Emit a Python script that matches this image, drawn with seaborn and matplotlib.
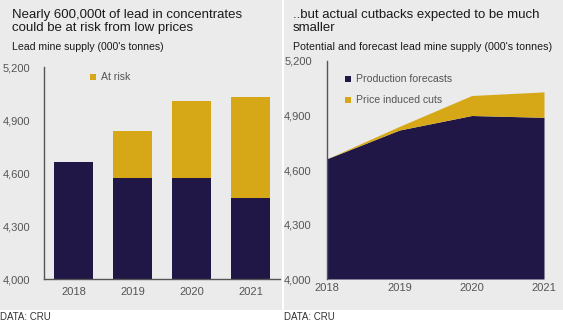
import matplotlib
matplotlib.use("Agg")
import matplotlib.pyplot as plt
from matplotlib.patches import Rectangle
from matplotlib.ticker import FuncFormatter
import seaborn as sns
import pandas as pd

# Data (000's tonnes)
years = ["2018", "2019", "2020", "2021"]
secure_supply = [4662, 4572, 4572, 4458]
at_risk = [0, 268, 438, 572]
production_forecasts = [4662, 4820, 4900, 4890]
price_induced_cuts = [0, 20, 110, 140]
y_ticks = [4000, 4300, 4600, 4900, 5200]

NAVY = "#201747"
GOLD = "#d6a817"
PANEL = "#ebebeb"
TEXT = "#1a1a1a"
TICK = "#555555"

sns.set_theme(style="white")
plt.rcParams["font.family"] = ["Liberation Sans", "DejaVu Sans"]

W, H = 563, 324
fig = plt.figure(figsize=(W / 100, H / 100), dpi=100, facecolor="white")


def fx(px):
    return px / W


def fy(py):
    return 1 - py / H


# Panel backgrounds
fig.patches.append(Rectangle((0, fy(310)), fx(282), 310 / H, transform=fig.transFigure,
                             facecolor=PANEL, edgecolor="none", zorder=-5))
fig.patches.append(Rectangle((fx(284), fy(310)), fx(W - 284), 310 / H, transform=fig.transFigure,
                             facecolor=PANEL, edgecolor="none", zorder=-5))

df = pd.DataFrame({
    "year": years,
    "secure": secure_supply,
    "total": [s + r for s, r in zip(secure_supply, at_risk)],
})

thousands = FuncFormatter(lambda v, p: f"{int(v):,}")


def style_axis(ax):
    ax.set_facecolor("none")
    ax.set_ylim(4000, 5200)
    ax.set_yticks(y_ticks)
    ax.yaxis.set_major_formatter(thousands)
    for side in ("top", "right"):
        ax.spines[side].set_visible(False)
    ax.spines["left"].set_color(TICK)
    ax.spines["bottom"].set_color(TICK)
    ax.spines["left"].set_linewidth(1)
    ax.spines["bottom"].set_linewidth(1)
    ax.tick_params(axis="both", length=0, labelsize=8, colors=TICK, labelcolor=TICK)
    ax.tick_params(axis="y", pad=10)
    ax.tick_params(axis="x", pad=6)
    ax.set_xlabel("")
    ax.set_ylabel("")


# Left: stacked bars
ax1 = fig.add_axes([fx(44), fy(279), fx(236), 212 / H])
ax1.set_zorder(2)
sns.barplot(data=df, x="year", y="total", color=GOLD, width=0.66, saturation=1,
            linewidth=0, edgecolor="none", ax=ax1)
sns.barplot(data=df, x="year", y="secure", color=NAVY, width=0.66, saturation=1,
            linewidth=0, edgecolor="none", ax=ax1)
ax1.set_xlim(-0.5, 3.5)
style_axis(ax1)

# Right: stacked area
ax2 = fig.add_axes([fx(327), fy(279), fx(217), 218 / H])
ax2.set_zorder(2)
xs = [int(y) for y in years]
upper = [p + c for p, c in zip(production_forecasts, price_induced_cuts)]
ax2.fill_between(xs, 4000, production_forecasts, color=NAVY, linewidth=0, zorder=2)
ax2.fill_between(xs, production_forecasts, upper, color=GOLD, linewidth=0, zorder=2)
ax2.set_xlim(2018, 2021)
ax2.set_xticks(xs)
ax2.set_xticklabels(years)
style_axis(ax2)
ax2.spines["bottom"].set_visible(False)
ax2.tick_params(axis="y", pad=11)
ax2.tick_params(axis="x", pad=3)


# Legends
def legend_item(x, y, color, label):
    fig.patches.append(Rectangle((fx(x), fy(y + 3)), fx(6), 6 / H, transform=fig.transFigure,
                                 facecolor=color, edgecolor="none", zorder=5))
    fig.text(fx(x + 11), fy(y), label, fontsize=7.6, color=TICK, va="center", ha="left")


legend_item(90, 77, GOLD, "At risk")
legend_item(345, 79, NAVY, "Production forecasts")
legend_item(345, 100, GOLD, "Price induced cuts")

# Titles
fig.text(fx(12), fy(21.5), "Nearly 600,000t of lead in concentrates\ncould be at risk from low prices",
         fontsize=9.5, color=TEXT, va="center", ha="left", linespacing=1.15)
fig.text(fx(12), fy(47), "Lead mine supply (000's tonnes)", fontsize=7.6, color=TEXT,
         va="center", ha="left")
fig.text(fx(293), fy(21.5), "..but actual cutbacks expected to be much\nsmaller",
         fontsize=9.5, color=TEXT, va="center", ha="left", linespacing=1.15)
fig.text(fx(293), fy(47), "Potential and forecast lead mine supply (000's tonnes)", fontsize=7.7,
         color=TEXT, va="center", ha="left")

# Source notes
fig.text(fx(0), fy(317), "DATA: CRU", fontsize=7, color="#333333", va="center", ha="left")
fig.text(fx(284), fy(317), "DATA: CRU", fontsize=7, color="#333333", va="center", ha="left")

fig.savefig("out.png", dpi=100, facecolor="white")
